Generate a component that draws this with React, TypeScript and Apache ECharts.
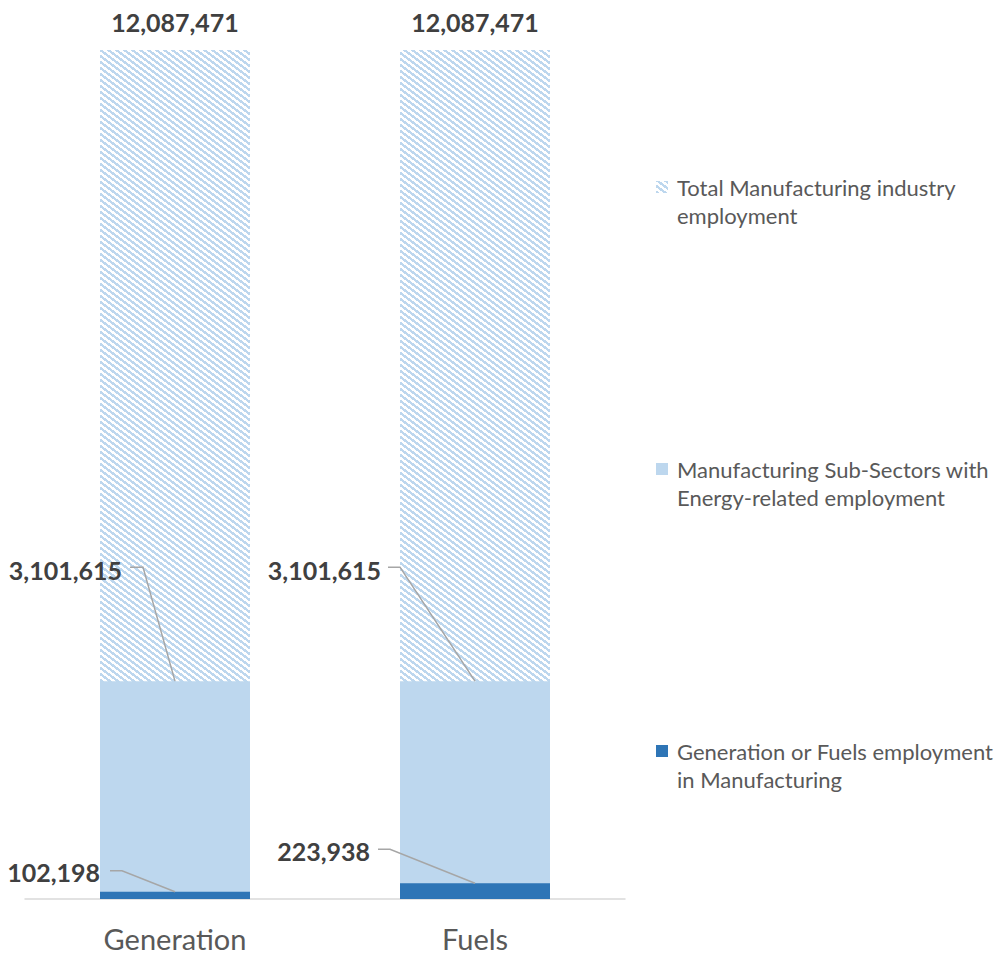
import React, { useEffect, useRef } from "react";
import * as echarts from "echarts";

const categories = ["Generation", "Fuels"];
const totalManufacturing = [12087471, 12087471];
const subSectorEnergy = [3101615, 3101615];
const genOrFuels = [102198, 223938];
const seriesNames = [
  "Total Manufacturing industry\nemployment",
  "Manufacturing Sub-Sectors with\nEnergy-related employment",
  "Generation or Fuels employment\nin Manufacturing",
];

// callout label placement offsets (label right edge dx,dy; elbow start/end dx,dy)
const subOffsets = [
  { lx: -53, ly: -111, p1: [-45, -114], p2: [-32, -114] },
  { lx: -94, ly: -111, p1: [-87, -114], p2: [-75, -114] },
];
const baseOffsets = [
  { lx: -75, ly: -20, p1: [-65, -21], p2: [-53, -21] },
  { lx: -105, ly: -32, p1: [-97, -34], p2: [-85, -34] },
];

const FONT = "Lato, 'Open Sans', sans-serif";

function makeHatch(): HTMLCanvasElement {
  const w = 8, h = 6;
  const c = document.createElement("canvas");
  c.width = w;
  c.height = h;
  const ctx = c.getContext("2d")!;
  ctx.fillStyle = "#ffffff";
  ctx.fillRect(0, 0, w, h);
  ctx.fillStyle = "#BDD7EE";
  for (let y = 0; y < h; y++) {
    for (let x = 0; x < w; x++) {
      const v = (((x * 6 - y * 8) % 48) + 48) % 48;
      if (v < 24) ctx.fillRect(x, y, 1, 1);
    }
  }
  return c;
}

export default function App() {
  const ref = useRef<HTMLDivElement>(null);
  useEffect(() => {
    if (!ref.current) return;
    const chart = echarts.init(ref.current, undefined, { renderer: "svg" });
    const hatch = makeHatch();
    const pattern: any = {
      image: hatch,
      repeat: "repeat",
      imageWidth: hatch.width,
      imageHeight: hatch.height,
    };
    const legendIcon = "path://M0,0L12,0L12,12L0,12Z M0,40L0.01,40";
    chart.setOption({
      animation: false,
      grid: { left: 25, right: 378, top: 50, bottom: 57 },
      legend: {
        orient: "vertical",
        left: 651,
        top: 168,
        itemGap: 226,
        itemWidth: 12,
        itemHeight: 40,
        icon: legendIcon,
        data: seriesNames,
        selectedMode: false,
        textStyle: {
          fontFamily: FONT,
          fontSize: 22,
          lineHeight: 28,
          color: "#595959",
          padding: [0, 0, 0, 4],
        },
      },
      xAxis: {
        type: "category",
        data: categories,
        axisTick: { show: false },
        axisLine: { lineStyle: { color: "#D9D9D9", width: 1.5 } },
        axisLabel: {
          fontFamily: FONT,
          fontSize: 29,
          color: "#595959",
          margin: 25,
        },
      },
      yAxis: {
        type: "value",
        min: 0,
        max: totalManufacturing[0],
        show: false,
        splitLine: { show: false },
      },
      series: [
        {
          name: seriesNames[0],
          type: "bar",
          data: totalManufacturing,
          barWidth: "50%",
          barGap: "-100%",
          itemStyle: { color: pattern },
          label: {
            show: true,
            position: "top",
            distance: 16,
            formatter: (p: any) => Number(p.value).toLocaleString("en-US"),
            fontFamily: FONT,
            fontSize: 25,
            fontWeight: "bold",
            color: "#404040",
          },
        },
        {
          name: seriesNames[1],
          type: "bar",
          data: subSectorEnergy,
          barWidth: "50%",
          barGap: "-100%",
          itemStyle: { color: "#BDD7EE" },
        },
        {
          name: seriesNames[2],
          type: "bar",
          data: genOrFuels,
          barWidth: "50%",
          barGap: "-100%",
          itemStyle: { color: "#2E75B6" },
        },
      ],
    });

    const graphics: any[] = [];
    const addCallout = (ci: number, value: number, off: any) => {
      const pt = chart.convertToPixel({ seriesIndex: 0 }, [ci, value]) as number[];
      const [ax, ay] = pt;
      graphics.push({
        type: "polyline",
        silent: true,
        shape: {
          points: [
            [ax + off.p1[0], ay + off.p1[1]],
            [ax + off.p2[0], ay + off.p2[1]],
            [ax, ay],
          ],
        },
        style: { stroke: "#A6A6A6", lineWidth: 1.5, fill: null },
        z: 10,
      });
      graphics.push({
        type: "text",
        silent: true,
        x: ax + off.lx,
        y: ay + off.ly,
        style: {
          text: value.toLocaleString("en-US"),
          align: "right",
          verticalAlign: "middle",
          fontFamily: FONT,
          fontSize: 25,
          fontWeight: "bold",
          fill: "#404040",
        },
        z: 10,
      });
    };
    categories.forEach((_, i) => {
      addCallout(i, subSectorEnergy[i], subOffsets[i]);
      addCallout(i, genOrFuels[i], baseOffsets[i]);
    });
    chart.setOption({ graphic: graphics });

    return () => chart.dispose();
  }, []);
  return (
    <div
      ref={ref}
      style={{ position: "fixed", left: 0, top: 0, width: 1003, height: 956, background: "#fff" }}
    />
  );
}
